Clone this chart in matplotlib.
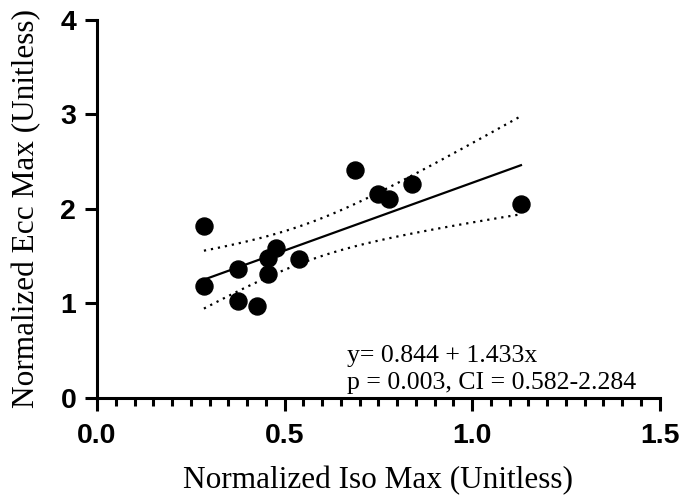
import numpy as np
import matplotlib
matplotlib.use("Agg")
from matplotlib import pyplot as plt
from matplotlib.ticker import MultipleLocator

# data
iso_max = [0.285, 0.285, 0.377, 0.377, 0.427, 0.457, 0.457, 0.477, 0.539,
           0.688, 0.748, 0.779, 0.839, 1.13]
ecc_max = [1.82, 1.19, 1.37, 1.03, 0.97, 1.31, 1.48, 1.59, 1.47,
           2.41, 2.16, 2.11, 2.26, 2.05]
intercept = 0.844
slope = 1.433
x_ticks = [0.0, 0.5, 1.0, 1.5]
x_labels = ["0.0", "0.5", "1.0", "1.5"]
y_ticks = [0, 1, 2, 3, 4]
y_labels = ["0", "1", "2", "3", "4"]

x = np.array(iso_max)
y = np.array(ecc_max)
n = len(x)

# 95% confidence band of the fitted line
xs = np.linspace(x.min(), x.max(), 100)
fit = intercept + slope * xs
resid = y - (intercept + slope * x)
s = np.sqrt(np.sum(resid ** 2) / (n - 2))
sxx = np.sum((x - x.mean()) ** 2)
t_crit = 2.179  # t(0.975, 12)
half = t_crit * s * np.sqrt(1.0 / n + (xs - x.mean()) ** 2 / sxx)

fig = plt.figure(figsize=(6.83, 4.99), dpi=100)
ax = fig.add_axes([0.142, 0.2024, 0.824, 0.7576])

ax.plot(xs, fit, color="black", lw=1.6, zorder=2)
ax.plot(xs, fit + half, color="black", lw=1.6, ls=(0, (1, 2.2)), zorder=2)
ax.plot(xs, fit - half, color="black", lw=1.6, ls=(0, (1, 2.2)), zorder=2)
ax.scatter(x, y, s=150, color="black", zorder=3, clip_on=False)

ax.set_xlim(0, 1.5)
ax.set_ylim(0, 4)
ax.set_xticks(x_ticks, x_labels)
ax.set_yticks(y_ticks, y_labels)
ax.xaxis.set_minor_locator(MultipleLocator(0.05))

for sp in ["top", "right"]:
    ax.spines[sp].set_visible(False)
for sp in ["left", "bottom"]:
    ax.spines[sp].set_linewidth(2.2)

ax.tick_params(which="major", length=9, width=2.2, direction="out")
ax.tick_params(axis="x", which="major", pad=9)
ax.tick_params(axis="y", which="major", pad=6)
ax.tick_params(which="minor", length=6, width=2.2, direction="out")
ax.tick_params(axis="y", which="minor", left=False)

for lab in ax.get_xticklabels() + ax.get_yticklabels():
    lab.set_fontfamily("Liberation Sans")
    lab.set_fontweight("bold")
    lab.set_fontsize(20.5)

ax.set_xlabel("Normalized Iso Max (Unitless)", fontfamily="Liberation Serif",
              fontsize=22.5, labelpad=12)
ax.set_ylabel("Normalized Ecc Max (Unitless)", fontfamily="Liberation Serif",
              fontsize=22.5, labelpad=14)

ax.text(0.667, 0.38, "y= 0.844 + 1.433x", fontfamily="Liberation Serif",
        fontsize=18.5, va="baseline")
ax.text(0.667, 0.095, "p = 0.003, CI = 0.582-2.284", fontfamily="Liberation Serif",
        fontsize=18.5, va="baseline")

fig.savefig("out.png", dpi=100)
